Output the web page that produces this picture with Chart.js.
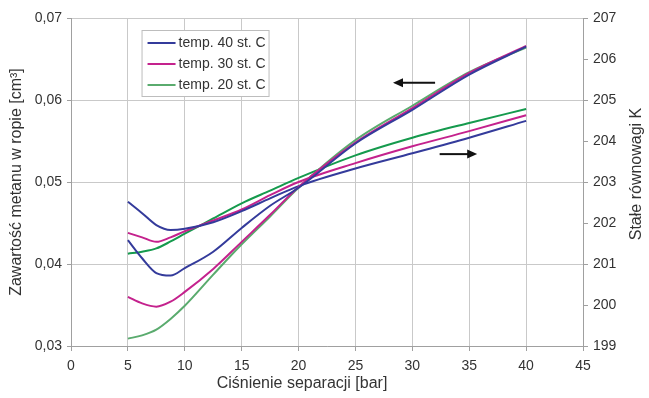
<!DOCTYPE html>
<html>
<head>
<meta charset="utf-8">
<script src="https://cdn.jsdelivr.net/npm/chart.js@4/dist/chart.umd.min.js"></script>
<style>
html,body{margin:0;padding:0;background:#fff;}
#wrap{position:relative;width:649px;height:398px;}
canvas{display:block;}
</style>
</head>
<body>
<div id="wrap"><canvas id="c" width="649" height="398"></canvas></div>
<script>
// ---- data ----
const pressure = [5, 6.25, 7.5, 8.75, 10, 12.5, 15, 17.5, 20, 25, 30, 35, 40];
const seriesNames = ['temp. 40 st. C', 'temp. 30 st. C', 'temp. 20 st. C'];
// methane content in oil [cm3] (left axis)
const methane40 = [0.0429, 0.0407, 0.0389, 0.0386, 0.0395, 0.0415, 0.0444, 0.0471, 0.0493, 0.0547, 0.0588, 0.0631, 0.0665];
const methane30 = [0.0360, 0.0352, 0.0348, 0.0354, 0.0366, 0.0394, 0.0427, 0.0460, 0.0494, 0.0548, 0.0590, 0.0633, 0.0666];
const methane20 = [0.0309, 0.0313, 0.0320, 0.0333, 0.0349, 0.0387, 0.0424, 0.0458, 0.0493, 0.0551, 0.0593, 0.0634, 0.0664];
// equilibrium constant K (right axis)
const k40 = [202.52, 202.24, 201.95, 201.83, 201.86, 202.02, 202.29, 202.60, 202.90, 203.33, 203.70, 204.08, 204.49];
const k30 = [201.76, 201.65, 201.54, 201.65, 201.80, 202.06, 202.33, 202.68, 203.00, 203.46, 203.87, 204.24, 204.63];
const k20 = [201.25, 201.30, 201.38, 201.55, 201.74, 202.11, 202.48, 202.79, 203.10, 203.65, 204.08, 204.44, 204.78];
const xTicks = [0, 5, 10, 15, 20, 25, 30, 35, 40, 45];
const leftTicks = [0.03, 0.04, 0.05, 0.06, 0.07];
const rightTicks = [199, 200, 201, 202, 203, 204, 205, 206, 207];
// arrow annotations (data coordinates): [xFrom, xTo, yValue]
const arrowLeft = [32.0, 28.3, 0.0621];
const arrowRight = [32.4, 35.7, 0.0534];

const blue = '#343b9b', magenta = '#c4228d', greenDark = '#159a4d', greenLight = '#5aab6e';
const FONT = "'Liberation Sans', Arial, sans-serif";
const TXT = '#333333';

function pts(ys){ return pressure.map((x,i)=>({x:x, y:ys[i]})); }
function ds(label, ys, color, axis){
  return {label:label, data:pts(ys), borderColor:color, backgroundColor:color, borderWidth:2,
          pointRadius:0, cubicInterpolationMode:'monotone', yAxisID:axis, fill:false};
}

const extras = {
  id:'extras',
  afterDatasetsDraw(chart){
    const ctx = chart.ctx, xs = chart.scales.x, yl = chart.scales.y;
    ctx.save();
    // arrows
    function arrow(a){
      const x1 = xs.getPixelForValue(a[0]), x2 = xs.getPixelForValue(a[1]), y = yl.getPixelForValue(a[2]);
      const dir = Math.sign(x2 - x1), head = 10, hw = 4.5;
      ctx.strokeStyle = '#111'; ctx.fillStyle = '#111'; ctx.lineWidth = 2;
      ctx.beginPath(); ctx.moveTo(x1, y); ctx.lineTo(x2 - dir*head*0.8, y); ctx.stroke();
      ctx.beginPath(); ctx.moveTo(x2, y); ctx.lineTo(x2 - dir*head, y - hw); ctx.lineTo(x2 - dir*head, y + hw); ctx.closePath(); ctx.fill();
    }
    arrow(arrowLeft); arrow(arrowRight);
    // legend box
    const lx = xs.getPixelForValue(6.2), ly = chart.chartArea.top + 12;
    const w = 127, h = 66;
    ctx.fillStyle = '#fff'; ctx.fillRect(lx, ly, w, h);
    ctx.strokeStyle = '#bdbdbd'; ctx.lineWidth = 1; ctx.strokeRect(lx + 0.5, ly + 0.5, w, h);
    const cols = [blue, magenta, greenLight];
    ctx.font = '14px ' + FONT; ctx.textBaseline = 'middle'; ctx.textAlign = 'left';
    seriesNames.forEach((n,i)=>{
      const yy = ly + 13 + i*21;
      ctx.strokeStyle = cols[i]; ctx.lineWidth = 2;
      ctx.beginPath(); ctx.moveTo(lx + 6, yy); ctx.lineTo(lx + 34, yy); ctx.stroke();
      ctx.fillStyle = TXT; ctx.fillText(n, lx + 37, yy + 0.5);
    });
    // x-axis title
    ctx.font = '16px ' + FONT; ctx.fillStyle = TXT; ctx.textAlign = 'center'; ctx.textBaseline = 'middle';
    ctx.fillText('Ciśnienie separacji [bar]', 302, 384);
    // right axis title (reads bottom to top)
    ctx.translate(637, 174); ctx.rotate(-Math.PI/2);
    ctx.fillText('Stałe równowagi K', 0, 0);
    ctx.restore();
  }
};

new Chart(document.getElementById('c'), {
  type:'line',
  data:{datasets:[
    ds(seriesNames[0], methane40, blue, 'y'),
    ds(seriesNames[1], methane30, magenta, 'y'),
    ds(seriesNames[2], methane20, greenLight, 'y'),
    ds(seriesNames[0], k40, blue, 'y2'),
    ds(seriesNames[1], k30, magenta, 'y2'),
    ds(seriesNames[2], k20, greenDark, 'y2')
  ]},
  options:{
    responsive:false, animation:false, devicePixelRatio:1,
    layout:{padding:{top:18, left:0, right:0, bottom:0}},
    plugins:{legend:{display:false}, tooltip:{enabled:false}},
    scales:{
      x:{type:'linear', min:0, max:45, position:'bottom',
        afterBuildTicks(s){ s.ticks = xTicks.map(v=>({value:v})); },
        afterFit(s){ s.height = 52; },
        grid:{color:'#c9c9c9', lineWidth:1, tickLength:5, tickColor:'#a0a0a0'},
        border:{color:'#a0a0a0'},
        ticks:{color:TXT, font:{family:FONT, size:14}, padding:7, maxRotation:0, callback:v=>String(v)}},
      y:{type:'linear', position:'left', min:0.03, max:0.07,
        afterBuildTicks(s){ s.ticks = leftTicks.map(v=>({value:v})); },
        afterFit(s){ s.width = 71; },
        grid:{color:'#c9c9c9', lineWidth:1, tickLength:4, tickColor:'#a0a0a0'},
        border:{color:'#a0a0a0'},
        ticks:{color:TXT, font:{family:FONT, size:14}, padding:5, callback:v=>v.toFixed(2).replace('.', ',')},
        title:{display:true, text:'Zawartość metanu w ropie [cm³]', color:TXT, font:{family:FONT, size:16}, padding:{top:7, bottom:0}}},
      y2:{type:'linear', position:'right', min:199, max:207,
        afterBuildTicks(s){ s.ticks = rightTicks.map(v=>({value:v})); },
        afterFit(s){ s.width = 66; },
        grid:{drawOnChartArea:false, tickLength:5, color:'#a0a0a0'},
        border:{color:'#a0a0a0'},
        ticks:{color:TXT, font:{family:FONT, size:14}, padding:5, callback:v=>String(v)}}
    }
  },
  plugins:[extras]
});
</script>
</body>
</html>
